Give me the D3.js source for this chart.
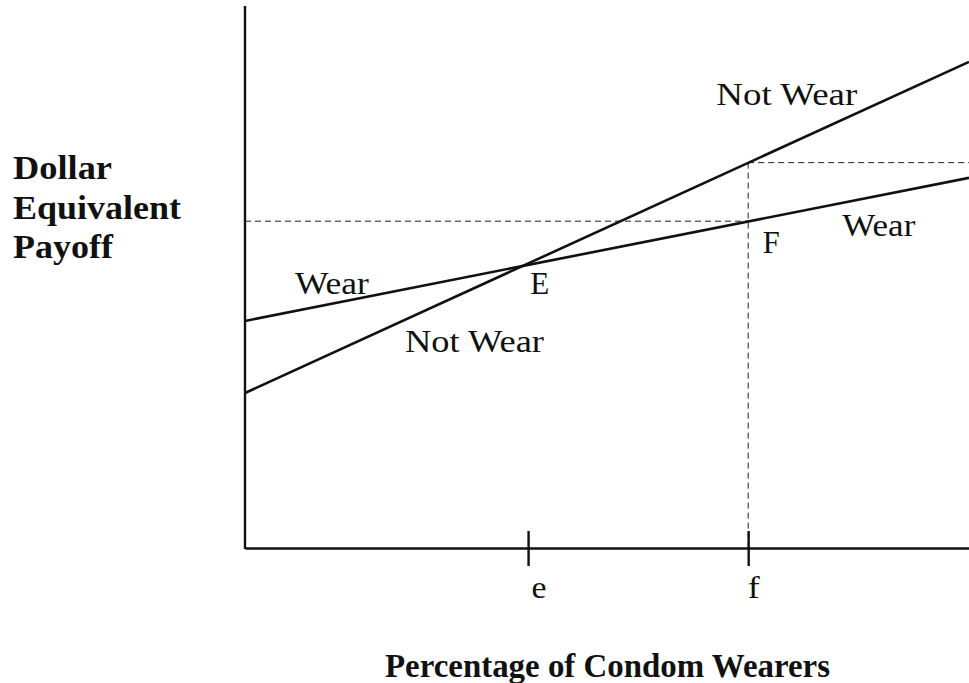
<!DOCTYPE html>
<html>
<head>
<meta charset="utf-8">
<script src="https://cdn.jsdelivr.net/npm/d3@7"></script>
<style>
  body { margin: 0; background: #fff; }
</style>
</head>
<body>
<div id="chart"></div>
<script>
// share of condom wearers (0..1) and payoff (arbitrary units, 0..1)
const shares = [0, 1];
const wearPayoff = [0.419, 0.683];
const notWearPayoff = [0.286, 0.897];
const tickShares = [0.391, 0.695];
const tickLabels = ["e", "f"];
const levelF = [0.603, 0.711]; // payoffs of Wear and Not Wear at f

const width = 969, height = 683;
const margin = { top: 6, right: 0, bottom: 135, left: 245 };
const serif = "'Liberation Serif', 'Times New Roman', serif";

const x = d3.scaleLinear().domain([0, 1]).range([margin.left, width - margin.right]);
const y = d3.scaleLinear().domain([0, 1]).range([height - margin.bottom, margin.top]);

const svg = d3.select("#chart").append("svg")
    .attr("width", width)
    .attr("height", height)
    .style("font-family", serif);

// dashed guides
const dash = svg.append("g")
    .attr("stroke", "#222")
    .attr("stroke-width", 1)
    .attr("stroke-dasharray", "6,4")
    .attr("fill", "none");
dash.append("line")
    .attr("x1", x(0)).attr("x2", x(tickShares[1]))
    .attr("y1", y(levelF[0])).attr("y2", y(levelF[0]));
dash.append("line")
    .attr("x1", x(tickShares[1])).attr("x2", x(1))
    .attr("y1", y(levelF[1])).attr("y2", y(levelF[1]));
dash.append("line")
    .attr("x1", x(tickShares[1])).attr("x2", x(tickShares[1]))
    .attr("y1", y(levelF[1])).attr("y2", y(0));

// payoff lines
const line = d3.line().x(d => x(d[0])).y(d => y(d[1]));
const series = [d3.zip(shares, wearPayoff), d3.zip(shares, notWearPayoff)];
svg.append("g")
    .selectAll("path")
    .data(series)
    .join("path")
      .attr("d", line)
      .attr("fill", "none")
      .attr("stroke", "#111")
      .attr("stroke-width", 2.6);

// axes (plain lines, like the figure)
const xAxis = d3.axisBottom(x)
    .tickValues(tickShares)
    .tickFormat((d, i) => tickLabels[i])
    .tickSizeInner(0)
    .tickSizeOuter(0)
    .tickPadding(27);
const gx = svg.append("g")
    .attr("transform", `translate(0,${y(0)})`)
    .call(xAxis)
    .attr("font-family", null);
gx.select(".domain").attr("stroke", "#111").attr("stroke-width", 2.4);
gx.selectAll(".tick line")
    .attr("y1", -17).attr("y2", 18)
    .attr("stroke", "#111").attr("stroke-width", 2.4);
gx.selectAll(".tick text")
    .attr("font-size", 32)
    .attr("fill", "#111")
    .attr("text-anchor", "start")
    .attr("dx", (d, i) => i === 0 ? 3 : -1)
    .attr("textLength", (d, i) => i === 0 ? 15 : 12)
    .attr("lengthAdjust", "spacingAndGlyphs");

svg.append("line")
    .attr("x1", x(0)).attr("x2", x(0))
    .attr("y1", y(1)).attr("y2", y(0) + 1)
    .attr("stroke", "#111")
    .attr("stroke-width", 2.4);

// labels on the chart
const labels = [
  { t: "Not Wear", sx: 0.651, py: 0.817, w: 141 },
  { t: "Wear", sx: 0.825, py: 0.576, w: 73 },
  { t: "F", sx: 0.715, py: 0.545, w: 17 },
  { t: "Wear", sx: 0.069, py: 0.469, w: 74 },
  { t: "E", sx: 0.394, py: 0.469, w: 19 },
  { t: "Not Wear", sx: 0.221, py: 0.362, w: 139 }
];
svg.append("g")
    .selectAll("text")
    .data(labels)
    .join("text")
      .attr("x", d => x(d.sx))
      .attr("y", d => y(d.py))
      .attr("font-size", 31)
      .attr("fill", "#111")
      .attr("textLength", d => d.w)
      .attr("lengthAdjust", "spacingAndGlyphs")
      .text(d => d.t);

// axis titles
const yTitle = [
  { t: "Dollar", by: 179, w: 99 },
  { t: "Equivalent", by: 219, w: 168 },
  { t: "Payoff", by: 258, w: 100 }
];
svg.append("g")
    .selectAll("text")
    .data(yTitle)
    .join("text")
      .attr("x", 13)
      .attr("y", d => d.by)
      .attr("font-size", 33)
      .attr("font-weight", "bold")
      .attr("fill", "#111")
      .attr("textLength", d => d.w)
      .attr("lengthAdjust", "spacingAndGlyphs")
      .text(d => d.t);

svg.append("text")
    .attr("x", 385)
    .attr("y", 677)
    .attr("font-size", 33)
    .attr("font-weight", "bold")
    .attr("fill", "#111")
    .attr("textLength", 445)
    .attr("lengthAdjust", "spacingAndGlyphs")
    .text("Percentage of Condom Wearers");
</script>
</body>
</html>
